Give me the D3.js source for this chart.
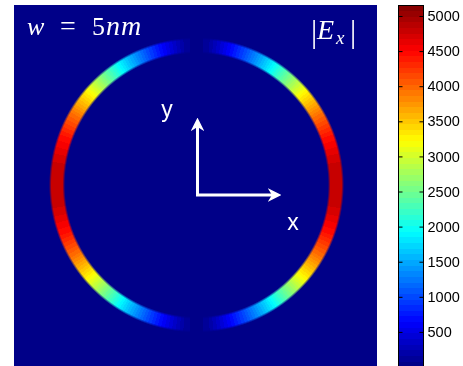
<!DOCTYPE html>
<html>
<head>
<meta charset="utf-8">
<style>
  body { margin: 0; background: #fff; }
  #wrap { position: relative; width: 463px; height: 366px; overflow: hidden; }
  canvas, svg { position: absolute; left: 0; top: 0; }
</style>
</head>
<body>
<div id="wrap"></div>
<script src="https://d3js.org/d3.v7.min.js"></script>
<script>
// |Ex| along the ring, by angle from the x axis (degrees, one quadrant; mirrored)
const ringAngles = [0, 10, 20, 30, 40, 50, 60, 70, 75, 80, 85, 90]
const ringValues = [4800, 4750, 4450, 3950, 3300, 2500, 1700, 1000, 700, 420, 150, 0]
// radial profile across the ring wall (px from mid radius -> opacity)
const wallOffsets = [-8, -5.5, 5.5, 8]
const wallFactors = [0, 1, 1, 0]
const cbTicks = [500, 1000, 1500, 2000, 2500, 3000, 3500, 4000, 4500, 5000]
const cMax = 5157

const W = 463, H = 366
const plot = { x0: 14, y0: 5, x1: 377, y1: 372 }
const ring = { cx: 196.5, cy: 185, r: 139.5 }

// jet colormap, 64 levels
const jetBase = d3.scaleLinear()
  .domain([0, 1/8, 3/8, 5/8, 7/8, 1])
  .range(['#000080', '#0000ff', '#00ffff', '#ffff00', '#ff0000', '#800000'])
  .clamp(true)
const jet = v => {
  let k = Math.min(63, Math.max(0, Math.floor(v / cMax * 64)))
  return jetBase((k + 0.5) / 64)
}

const angScale = d3.scaleLinear().domain(ringAngles).range(ringValues).clamp(true)
const wallScale = d3.scaleLinear().domain(wallOffsets).range(wallFactors).clamp(true)

const wrap = d3.select('#wrap')

// field image on canvas
const pw = plot.x1 - plot.x0, ph = plot.y1 - plot.y0
const canvas = wrap.append('canvas')
  .attr('width', pw).attr('height', ph)
  .style('left', plot.x0 + 'px').style('top', plot.y0 + 'px')
const ctx = canvas.node().getContext('2d')
const img = ctx.createImageData(pw, ph)
const bg = d3.rgb(jet(0))
for (let j = 0; j < ph; j++) {
  for (let i = 0; i < pw; i++) {
    const dx = plot.x0 + i + 0.5 - ring.cx
    const dy = ring.cy - (plot.y0 + j + 0.5)
    const rr = Math.sqrt(dx * dx + dy * dy)
    let a = Math.abs(Math.atan2(dy, dx)) * 180 / Math.PI
    if (a > 90) a = 180 - a
    const f = wallScale(rr - ring.r)
    const c = d3.rgb(jet(angScale(a)))
    const p = (j * pw + i) * 4
    img.data[p] = bg.r + (c.r - bg.r) * f
    img.data[p + 1] = bg.g + (c.g - bg.g) * f
    img.data[p + 2] = bg.b + (c.b - bg.b) * f
    img.data[p + 3] = 255
  }
}
ctx.putImageData(img, 0, 0)

const svg = wrap.append('svg').attr('width', W).attr('height', H)

// arrows
const defs = svg.append('defs')
defs.append('marker')
  .attr('id', 'head').attr('viewBox', '0 0 10 10')
  .attr('refX', 6).attr('refY', 5)
  .attr('markerWidth', 4.5).attr('markerHeight', 4.5)
  .attr('markerUnits', 'strokeWidth')
  .attr('orient', 'auto')
  .append('path').attr('d', 'M0,0 L10,5 L0,10 L3,5 Z').attr('fill', '#fff')

const ox = 197.5, oy = 195
svg.append('path')
  .attr('d', `M${ox},${oy} L${ox},${123}`)
  .attr('stroke', '#fff').attr('stroke-width', 3).attr('fill', 'none')
  .attr('marker-end', 'url(#head)')
svg.append('path')
  .attr('d', `M${ox - 1.5},${oy} L${276},${oy}`)
  .attr('stroke', '#fff').attr('stroke-width', 3).attr('fill', 'none')
  .attr('marker-end', 'url(#head)')

svg.append('text').attr('x', 167).attr('y', 117)
  .attr('text-anchor', 'middle')
  .attr('font-family', 'Liberation Sans, Arial, sans-serif').attr('font-size', 23)
  .attr('fill', '#fff').text('y')
svg.append('text').attr('x', 293).attr('y', 230)
  .attr('text-anchor', 'middle')
  .attr('font-family', 'Liberation Sans, Arial, sans-serif').attr('font-size', 23)
  .attr('fill', '#fff').text('x')

// labels in the corners
const t1 = svg.append('text').attr('y', 35)
  .attr('font-family', 'Liberation Serif, serif').attr('font-size', 26)
  .attr('fill', '#fff')
t1.append('tspan').attr('x', 27).attr('font-style', 'italic').text('w')
t1.append('tspan').attr('x', 60).attr('font-size', 28).text('=')
t1.append('tspan').attr('x', 92).text('5')
t1.append('tspan').attr('x', 106).attr('font-style', 'italic')
  .attr('font-size', 28).attr('letter-spacing', 1).text('nm')

const t2 = svg.append('text').attr('y', 39)
  .attr('font-family', 'Liberation Serif, serif').attr('font-size', 26)
  .attr('fill', '#fff')
t2.append('tspan').attr('x', 311).attr('font-size', 31).attr('dy', 3).text('|')
t2.append('tspan').attr('x', 317).attr('font-style', 'italic').attr('font-size', 28).attr('dy', -3).text('E')
t2.append('tspan').attr('x', 336).attr('font-style', 'italic').attr('font-size', 19).attr('dy', 5).text('x')
t2.append('tspan').attr('x', 350).attr('font-size', 31).attr('dy', -2).text('|')

// colorbar
const cb = { x0: 398, x1: 424 }
const cy = d3.scaleLinear().domain([0, cMax]).range([367, 5])
const levels = d3.range(64)
svg.append('g').selectAll('rect')
  .data(levels)
  .join('rect')
  .attr('x', cb.x0)
  .attr('width', cb.x1 - cb.x0)
  .attr('y', k => cy((k + 1) * cMax / 64))
  .attr('height', k => cy(k * cMax / 64) - cy((k + 1) * cMax / 64) + 0.4)
  .attr('fill', k => jet((k + 0.5) * cMax / 64))
  .attr('shape-rendering', 'crispEdges')

svg.append('rect')
  .attr('x', cb.x0 + 0.5).attr('y', 5.5)
  .attr('width', cb.x1 - cb.x0 - 1).attr('height', 370)
  .attr('fill', 'none').attr('stroke', '#000').attr('stroke-width', 1)

const axR = d3.axisRight(cy).tickValues(cbTicks).tickSize(-4).tickFormat(d3.format('d'))
const gR = svg.append('g').attr('transform', `translate(${cb.x1 - 0.5},0)`).call(axR)
gR.select('.domain').remove()
gR.selectAll('text').attr('font-family', 'Liberation Sans, Arial, sans-serif')
  .attr('font-size', 14.5).attr('fill', '#000').attr('x', 4)
const axL = d3.axisLeft(cy).tickValues(cbTicks).tickSize(-4).tickFormat('')
const gL = svg.append('g').attr('transform', `translate(${cb.x0 + 0.5},0)`).call(axL)
gL.select('.domain').remove()
</script>
</body>
</html>
